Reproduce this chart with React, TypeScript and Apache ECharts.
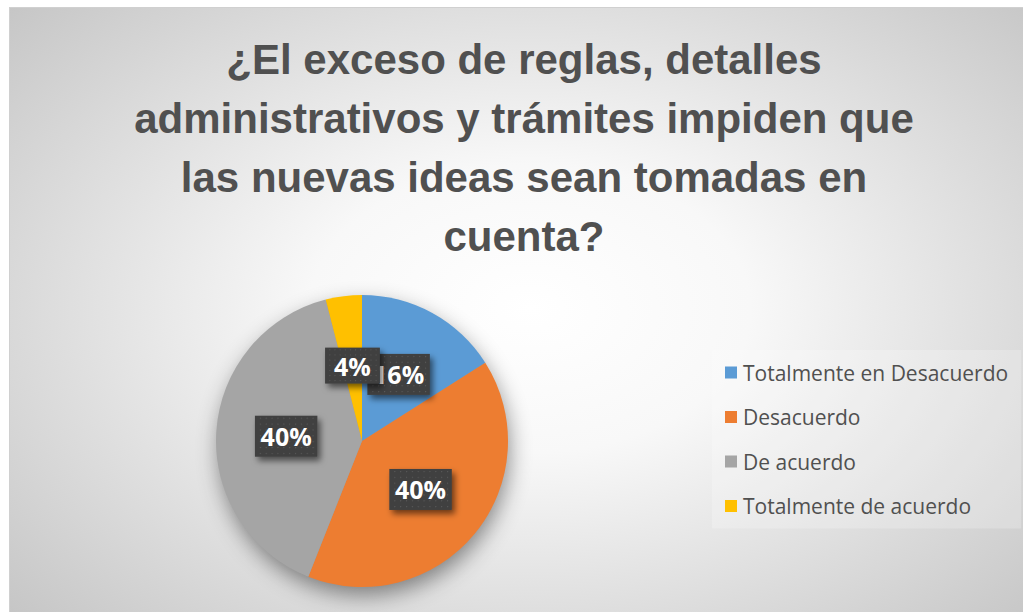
import React, { useEffect, useRef } from "react";
import * as echarts from "echarts";

const titleLines = [
  "¿El exceso de reglas, detalles",
  "administrativos y trámites impiden que",
  "las nuevas ideas sean tomadas en",
  "cuenta?",
];
const categories = [
  "Totalmente en Desacuerdo",
  "Desacuerdo",
  "De acuerdo",
  "Totalmente de acuerdo",
];
const values = [4, 10, 10, 1];
const colors = ["#5B9BD5", "#ED7D31", "#A5A5A5", "#FFC000"];

function makePattern(w: number, h: number): string {
  const c = document.createElement("canvas");
  c.width = w;
  c.height = h;
  const ctx = c.getContext("2d");
  if (!ctx) return "";
  ctx.fillStyle = "#404040";
  ctx.fillRect(0, 0, w, h);
  ctx.fillStyle = "#5a5a5a";
  for (let y = 2; y < h; y += 6) {
    for (let x = (y / 6) % 2 ? 5 : 2; x < w; x += 6) {
      ctx.fillRect(x, y, 1.2, 1.2);
    }
  }
  return c.toDataURL();
}

export default function App() {
  const ref = useRef<HTMLDivElement>(null);
  useEffect(() => {
    if (!ref.current) return;
    const chart = echarts.init(ref.current, null, { renderer: "svg" });
    const pattern = makePattern(64, 42);
    chart.setOption({
      animation: false,
      backgroundColor: "transparent",
      color: colors,
      title: {
        text: titleLines.join("\n"),
        left: 524,
        top: 30,
        padding: 0,
        textAlign: "center",
        textStyle: {
          fontFamily: "Liberation Sans",
          fontWeight: "bold",
          fontSize: 42,
          lineHeight: 59,
          color: "#505050",
        },
      },
      legend: {
        data: categories,
        orient: "vertical",
        left: 712,
        top: 350,
        padding: [12, 13, 12, 13],
        itemWidth: 12,
        itemHeight: 12,
        itemGap: 23.5,
        icon: "rect",
        backgroundColor: "rgba(255,255,255,0.22)",
        textStyle: {
          fontFamily: "Open Sans",
          fontSize: 21,
          color: "#505050",
          padding: [0, 0, 0, 1],
        },
      },
      series: [
        {
          type: "pie",
          silent: true,
          center: [362, 441],
          radius: 145,
          z: 1,
          label: { show: false },
          labelLine: { show: false },
          itemStyle: {
            color: "#999999",
            shadowBlur: 22,
            shadowOffsetX: 2,
            shadowOffsetY: 9,
            shadowColor: "rgba(0,0,0,0.45)",
          },
          data: [{ value: 1, name: "_shadow" }],
        },
        {
          type: "pie",
          center: [362, 441],
          radius: 146,
          z: 2,
          startAngle: 90,
          clockwise: true,
          avoidLabelOverlap: false,
          percentPrecision: 0,
          labelLayout: { hideOverlap: false },
          itemStyle: { borderWidth: 0 },
          labelLine: { show: false },
          label: {
            show: true,
            position: "inside",
            formatter: "{d}%",
            fontFamily: "Open Sans",
            fontWeight: "bold",
            fontSize: 25,
            color: "#ffffff",
            backgroundColor: pattern ? { image: pattern } : "#404040",
            padding: [9, 9, 7, 9],
            shadowColor: "rgba(0,0,0,0.55)",
            shadowBlur: 6,
            shadowOffsetX: 3,
            shadowOffsetY: 4,
          },
          data: categories.map((n, i) => ({ name: n, value: values[i] })),
        },
      ],
    });
    return () => chart.dispose();
  }, []);
  return (
    <div
      style={{
        position: "absolute",
        left: 0,
        top: 0,
        width: 1023,
        height: 612,
        overflow: "hidden",
        background: "#ffffff",
      }}
    >
      <div
        style={{
          position: "absolute",
          left: 9,
          top: 7,
          width: 1040,
          height: 640,
          border: "1px solid #d0d0d0",
          background:
            "radial-gradient(ellipse farthest-corner at 50% 47%, #ffffff 0%, #f8f8f8 30%, #c2c2c2 100%)",
        }}
      />
      <div
        ref={ref}
        style={{ position: "absolute", left: 0, top: 0, width: 1023, height: 612 }}
      />
    </div>
  );
}
